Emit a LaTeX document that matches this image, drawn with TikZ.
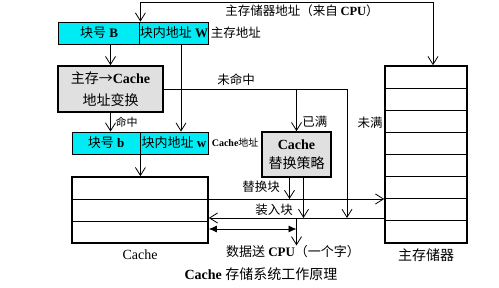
\documentclass[tikz,border=0pt]{standalone}
\usepackage{fontspec}
\setmainfont{Liberation Serif}
\newfontfamily\zh{Noto Sans CJK SC}
\newcommand{\latb}[1]{{\rmfamily\bfseries #1}}
\usetikzlibrary{arrows.meta,calc}
\definecolor{aqua}{RGB}{0,236,244}
\definecolor{boxgray}{RGB}{224,224,224}
\begin{document}
\begin{tikzpicture}[x=1pt, y=-1pt, line width=0.8pt, >={Straight Barb[length=8pt,width=10pt]}, every node/.style={inner sep=0pt}, field/.style={draw, fill=aqua, minimum width=68pt, minimum height=22pt, font=\fontsize{13}{15}\selectfont}, unit/.style={draw, line width=1.6pt, fill=boxgray, align=center}, store/.style={draw, line width=1.6pt}, lbl/.style={font=\zh\fontsize{12.5}{14}\selectfont}]
\useasboundingbox (0,0) rectangle (499,288);
\node[field, minimum width=82pt] (blkB) at (99,33) {{\zh 块号} \textbf{B}};
\node[field] (offW) at (174,33) {{\zh 块内地址} \textbf{W}};
\node[lbl, anchor=west] (maddr) at ([xshift=2pt]offW.east) {主存地址};
\node[unit, minimum width=105pt, minimum height=46pt, font=\fontsize{14}{22}\selectfont] (map) at (110.5,89) {{\zh 主存→}\textbf{Cache}\\{\zh 地址变换}};
\node[field] (blkb) at (106,143) {{\zh 块号} \textbf{b}};
\node[field] (offw) at (174,143) {{\zh 块内地址} \textbf{w}};
\node[anchor=west, font=\fontsize{10}{12}\selectfont] (caddr) at ([xshift=3pt]offw.east) {\textbf{Cache}{\zh 地址}};
\node[unit, minimum width=69pt, minimum height=45pt, font=\fontsize{14}{19}\selectfont] (repl) at (296.5,154.5) {\textbf{Cache}\\{\zh 替换策略}};
\node[store, minimum width=136pt, minimum height=66pt] (cache) at (140,210) {};
\node[store, minimum width=82pt, minimum height=177pt] (mem) at (426,154.5) {};
\foreach \s in {-11,11}
  \draw ([yshift=\s]cache.west) -- ([yshift=\s]cache.east);
\foreach \k in {1,...,7}
  \draw ([yshift={88.5-\k*22.125}]mem.west) -- ([yshift={88.5-\k*22.125}]mem.east);
\node[font=\fontsize{14}{16}\selectfont] (cname) at (140,255) {Cache};
\node[font=\zh\fontsize{14}{16}\selectfont] (mname) at (426,255) {主存储器};
\node[font=\fontsize{14}{16}\selectfont] (title) at (261,274) {\textbf{Cache} {\zh 存储系统工作原理}};
\node[font=\fontsize{13}{15}\selectfont] (cpuout) at (293,252) {{\zh 数据送} \textbf{CPU}{\zh （一个字）}};
\coordinate (cpu) at (433,2);
\coordinate (miss) at (347,89);
\coordinate (rb) at ([yshift=11pt]cache.east);
\coordinate (ld) at ([yshift=-8pt]cache.east);
\coordinate (cw) at ([yshift=-19pt]cache.east);
\coordinate (r1) at ([xshift=-7pt]repl.south);
\coordinate (r2) at ([xshift=7pt]repl.south);
\coordinate (tap) at (repl.south |- ld);
\coordinate (wdn) at ([xshift=7pt]offW.south);
\draw[<->] (blkB.north east) |- (cpu) -- (cpu |- mem.north);
\node[lbl] (cpulbl) at (302,11) {主存储器地址（来自 \latb{CPU}）};
\draw[->] (map.north |- blkB.south) -- (map.north);
\draw[->] (wdn) -- (wdn |- offw.north);
\draw[->] (map.east) -| (miss |- ld);
\draw[->] (repl.north |- map.east) -- (repl.north);
\node[lbl] (misslbl) at (236,80) {未命中};
\node[lbl, anchor=west] (fulllbl) at (302,122) {已满};
\node[lbl] (freelbl) at (370,123) {未满};
\draw[->] (map.south) -- (map.south |- blkb.north);
\node[lbl, font=\zh\fontsize{11}{13}\selectfont] (hitlbl) at (126.5,122) {命中};
\draw[->] (blkb.south east) -- (blkb.south east |- cache.north);
\draw[->] (rb) -- (rb -| mem.west);
\draw[->] (r1) -- (r1 |- rb);
\node[lbl] (outlbl) at (261,187) {替换块};
\draw[->] (ld -| mem.west) -- (ld);
\draw[->] (r2) -- (r2 |- ld);
\node[lbl] (inlbl) at (274,210) {装入块};
\draw[{Latex[length=8pt,width=7pt]}-{Latex[length=8pt,width=7pt]}] (cw) -- (cw -| tap);
\draw[->] (tap) -- (tap |- cpuout.north);
\end{tikzpicture}
\end{document}
